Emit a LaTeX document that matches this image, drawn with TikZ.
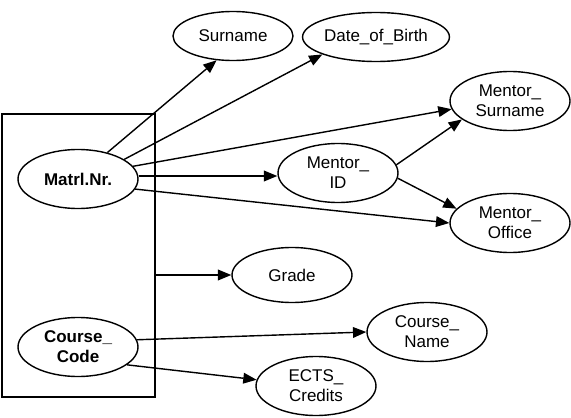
\documentclass[tikz,border=0pt]{standalone}
\usepackage{fontspec}
\setmainfont{Liberation Sans}
\usetikzlibrary{arrows.meta,shapes.geometric}

\tikzset{
	attr/.style={draw, ellipse, line width=1.2pt, minimum width=36mm, minimum height=17.7mm,
		inner sep=0pt, align=center, font=\fontsize{14.5}{17}\selectfont},
	keyattr/.style={attr, font=\fontsize{14.5}{17}\selectfont\bfseries},
	fd/.style={line width=1.2pt, -{Triangle[length=4mm,width=3.2mm]}},
}

\begin{document}
\begin{tikzpicture}[x=0.3mm, y=-0.3mm]
			%%%%% START %%%%%
			\useasboundingbox (0, 0) rectangle (571, 418);
			
			% key box
			\draw[line width=1.2pt] (2, 114) rectangle (155, 397);
			\coordinate (keyedge) at (155, 275);
			
			\node[keyattr] (matrl) at (78, 179) {Matrl.Nr.};
			\node[keyattr] (course) at (78, 347) {Course\_\\Code};
			
			\node[attr, minimum height=14.7mm] (surname) at (233, 36) {Surname};
			\node[attr, minimum height=14.7mm] (birth) at (376, 37) {Date\_of\_Birth};
			\node[attr] (msurname) at (510, 101) {Mentor\_\\Surname};
			\node[attr] (mid) at (338, 173) {Mentor\_\\ID};
			\node[attr] (moffice) at (510, 223) {Mentor\_\\Office};
			\node[attr, minimum height=16.5mm] (grade) at (292, 275) {Grade};
			\node[attr] (cname) at (427, 332) {Course\_\\Name};
			\node[attr] (ects) at (316, 386) {ECTS\_\\Credits};
			
			\draw[fd] (matrl.42) -- (surname.-124);
			\draw[fd] (matrl.23) -- (birth.-162);
			\draw[fd] (matrl.13) -- (msurname.188);
			\draw[fd] (matrl.east |- 0, 176) -- (mid.west |- 0, 176);
			\draw[fd] (matrl.-10) -- (moffice.west);
			
			\draw[fd] (mid.8) -- (msurname.201);
			\draw[fd] (mid.-5) -- (moffice.165);
			
			\draw[fd] (keyedge) -- (grade);
			
			\draw[fd] (course.7) -- (cname.west);
			\draw[fd] (course.-20) -- (ects.174);
			
			%%%%% END %%%%%
\end{tikzpicture}
\end{document}
